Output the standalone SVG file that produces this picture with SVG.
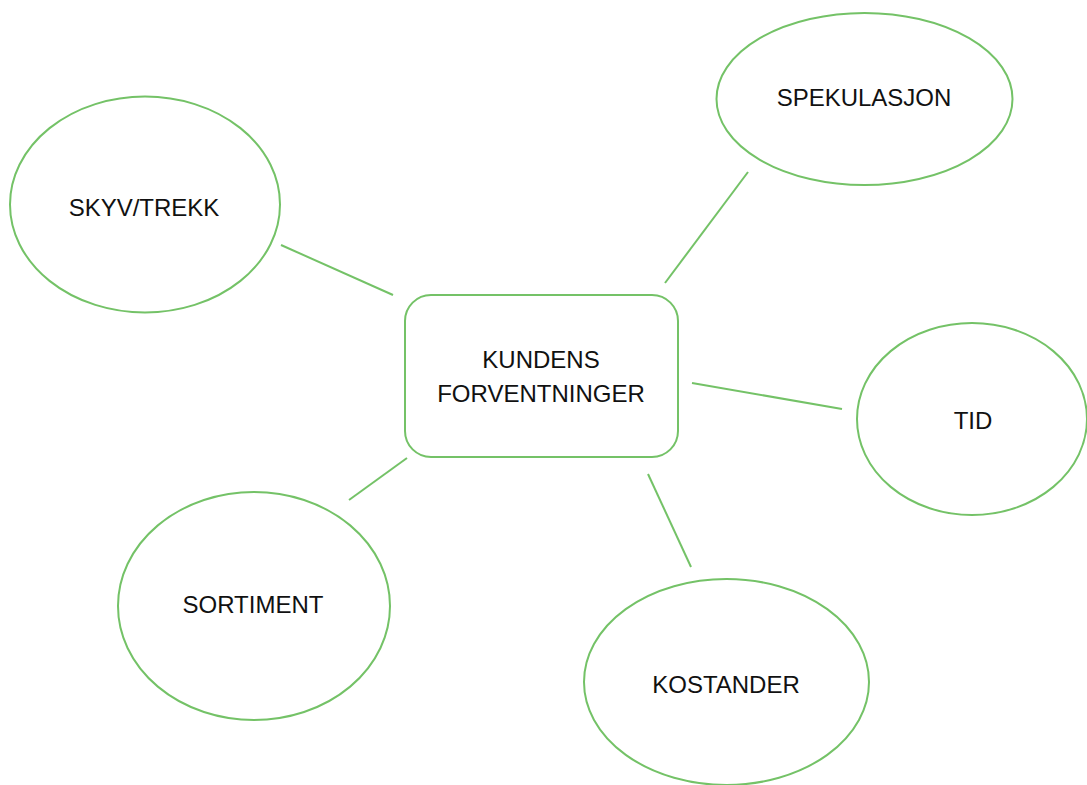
<svg xmlns="http://www.w3.org/2000/svg" width="1087" height="785" viewBox="0 0 1087 785">
<style>
.n{fill:#fff;stroke:#74c267;stroke-width:2}
.c{stroke:#74c267;stroke-width:2;fill:none}
.t{font-family:"Liberation Sans",Arial,sans-serif;font-size:24px;fill:#111;text-anchor:middle;dominant-baseline:central}
</style>
<rect width="1087" height="785" fill="#fff"/>
<g id="connectors">
<line class="c" x1="281" y1="245" x2="393" y2="295"/>
<line class="c" x1="748" y1="172" x2="665" y2="283"/>
<line class="c" x1="692" y1="383" x2="842" y2="409"/>
<line class="c" x1="648" y1="474" x2="691" y2="567"/>
<line class="c" x1="407" y1="458" x2="349" y2="500"/>
</g>
<g id="center">
<rect class="n" x="405" y="295" width="273" height="162" rx="26"/>
<text class="t" x="541" y="359">KUNDENS</text>
<text class="t" x="541" y="393">FORVENTNINGER</text>
</g>
<g id="skyv">
<ellipse class="n" cx="145" cy="204.5" rx="135" ry="108"/>
<text class="t" x="144" y="207">SKYV/TREKK</text>
</g>
<g id="spekulasjon">
<ellipse class="n" cx="864.5" cy="99" rx="148" ry="86"/>
<text class="t" x="864" y="97">SPEKULASJON</text>
</g>
<g id="tid">
<ellipse class="n" cx="972" cy="419" rx="115" ry="96"/>
<text class="t" x="973" y="420">TID</text>
</g>
<g id="kostander">
<ellipse class="n" cx="726.5" cy="682" rx="142.5" ry="103"/>
<text class="t" x="726" y="684">KOSTANDER</text>
</g>
<g id="sortiment">
<ellipse class="n" cx="254" cy="606" rx="136" ry="114"/>
<text class="t" x="253" y="604">SORTIMENT</text>
</g>
</svg>
